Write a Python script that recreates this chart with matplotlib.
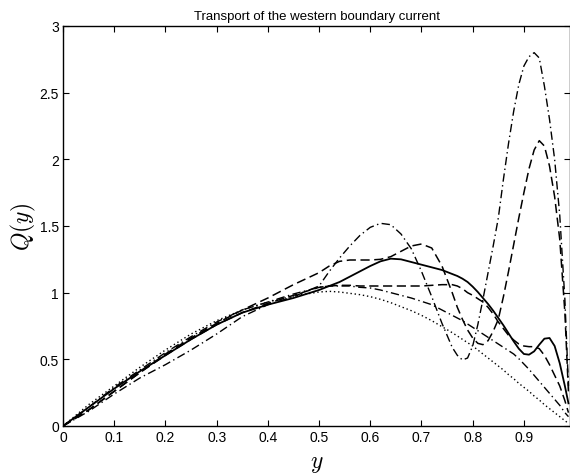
import numpy as np
import matplotlib
matplotlib.use('Agg')
from matplotlib import pyplot as plt

# position along the boundary (x axis, called y in the chart)
ypos = [0.00, 0.05, 0.10, 0.15, 0.20, 0.25, 0.30, 0.35, 0.40, 0.45, 0.50,
        0.52, 0.54, 0.56, 0.58, 0.60, 0.62, 0.64, 0.66, 0.68, 0.70, 0.72, 0.74, 0.76,
        0.77, 0.78, 0.79, 0.80, 0.81, 0.82, 0.83, 0.84, 0.85, 0.86, 0.87, 0.88, 0.89, 0.90,
        0.91, 0.92, 0.93, 0.94, 0.95, 0.96, 0.97, 0.98, 0.987]

q_solid = [0, 0.14, 0.28, 0.41, 0.53, 0.65, 0.76, 0.85, 0.91, 0.96, 1.02,
           1.05, 1.08, 1.12, 1.16, 1.20, 1.235, 1.255, 1.25, 1.23, 1.21, 1.19, 1.17, 1.14,
           1.125, 1.105, 1.08, 1.045, 1.005, 0.96, 0.915, 0.865, 0.81, 0.755, 0.695, 0.635, 0.58, 0.54,
           0.535, 0.56, 0.61, 0.655, 0.66, 0.60, 0.47, 0.30, 0.17]

q_dotted = [0, 0.16, 0.30, 0.44, 0.57, 0.69, 0.79, 0.87, 0.93, 0.975, 1.005,
            1.01, 1.005, 0.995, 0.985, 0.97, 0.95, 0.925, 0.895, 0.865, 0.83, 0.79, 0.745, 0.70,
            0.675, 0.65, 0.625, 0.60, 0.57, 0.54, 0.51, 0.48, 0.45, 0.42, 0.385, 0.355, 0.32, 0.29,
            0.26, 0.225, 0.195, 0.16, 0.13, 0.10, 0.07, 0.04, 0.02]

q_dashdot1 = [0, 0.11, 0.24, 0.36, 0.46, 0.57, 0.69, 0.82, 0.91, 0.97, 1.05,
              1.16, 1.26, 1.35, 1.43, 1.49, 1.52, 1.51, 1.44, 1.33, 1.16, 0.97, 0.77, 0.59,
              0.53, 0.495, 0.51, 0.60, 0.76, 0.95, 1.15, 1.35, 1.56, 1.85, 2.12, 2.36, 2.56, 2.70,
              2.77, 2.80, 2.76, 2.55, 2.30, 2.00, 1.58, 0.95, 0.30]

q_dashed1 = [0, 0.12, 0.26, 0.40, 0.54, 0.66, 0.77, 0.87, 0.96, 1.06, 1.15,
             1.20, 1.235, 1.245, 1.245, 1.245, 1.25, 1.27, 1.31, 1.35, 1.365, 1.335, 1.20, 1.00,
             0.89, 0.80, 0.72, 0.66, 0.62, 0.61, 0.64, 0.71, 0.80, 0.97, 1.16, 1.36, 1.56, 1.75,
             1.93, 2.07, 2.14, 2.10, 1.95, 1.72, 1.40, 0.85, 0.25]

q_dashed2 = [0, 0.12, 0.26, 0.40, 0.53, 0.65, 0.76, 0.85, 0.92, 0.98, 1.04,
             1.05, 1.055, 1.055, 1.05, 1.05, 1.05, 1.05, 1.05, 1.05, 1.05, 1.055, 1.06, 1.06,
             1.05, 1.03, 1.0, 0.98, 0.955, 0.93, 0.89, 0.84, 0.78, 0.73, 0.68, 0.645, 0.615, 0.60,
             0.595, 0.595, 0.58, 0.53, 0.46, 0.38, 0.30, 0.19, 0.10]

q_dashdot2 = [0, 0.14, 0.29, 0.42, 0.55, 0.67, 0.78, 0.87, 0.93, 0.99, 1.04,
              1.05, 1.05, 1.05, 1.04, 1.035, 1.02, 1.00, 0.98, 0.96, 0.935, 0.91, 0.87, 0.83,
              0.81, 0.79, 0.765, 0.74, 0.715, 0.69, 0.665, 0.64, 0.615, 0.59, 0.565, 0.54, 0.505, 0.465,
              0.425, 0.38, 0.335, 0.29, 0.245, 0.20, 0.155, 0.10, 0.07]

xticks = [0, 0.1, 0.2, 0.3, 0.4, 0.5, 0.6, 0.7, 0.8, 0.9]
xticklabels = ['0', '0.1', '0.2', '0.3', '0.4', '0.5', '0.6', '0.7', '0.8', '0.9']
yticks = [0, 0.5, 1, 1.5, 2, 2.5, 3]
yticklabels = ['0', '0.5', '1', '1.5', '2', '2.5', '3']

plt.rcParams['font.family'] = ['Liberation Sans', 'DejaVu Sans']
plt.rcParams['mathtext.fontset'] = 'cm'

fig = plt.figure(figsize=(5.7, 4.77), dpi=100)
ax = fig.add_axes([63 / 570, 1 - 427 / 477, 507 / 570, 400 / 477])

dashed = (6, 3)
dashdot = (6, 2.5, 1, 2.5)
dotted = (1, 2)

ax.plot(ypos, q_dotted, color='k', lw=1.0, dashes=dotted)
ax.plot(ypos, q_dashdot2, color='k', lw=1.0, dashes=dashdot)
ax.plot(ypos, q_dashed2, color='k', lw=1.1, dashes=dashed)
ax.plot(ypos, q_dashed1, color='k', lw=1.1, dashes=dashed)
ax.plot(ypos, q_dashdot1, color='k', lw=1.0, dashes=dashdot)
ax.plot(ypos, q_solid, color='k', lw=1.3, ls='-')

ax.set_xlim(0, 0.99)
ax.set_ylim(0, 3)
ax.set_xticks(xticks)
ax.set_xticklabels(xticklabels)
ax.set_yticks(yticks)
ax.set_yticklabels(yticklabels)
ax.tick_params(direction='in', top=True, right=True, length=4, width=0.8,
               labelsize=10, pad=3)
for sp in ax.spines.values():
    sp.set_linewidth(1.0)

ax.set_title('Transport of the western boundary current', fontsize=9.5, pad=5)
ax.set_xlabel('$y$', fontsize=17, labelpad=6)
ax.set_ylabel('$Q(y)$', fontsize=17, labelpad=1)

fig.savefig('out.png', dpi=100)
